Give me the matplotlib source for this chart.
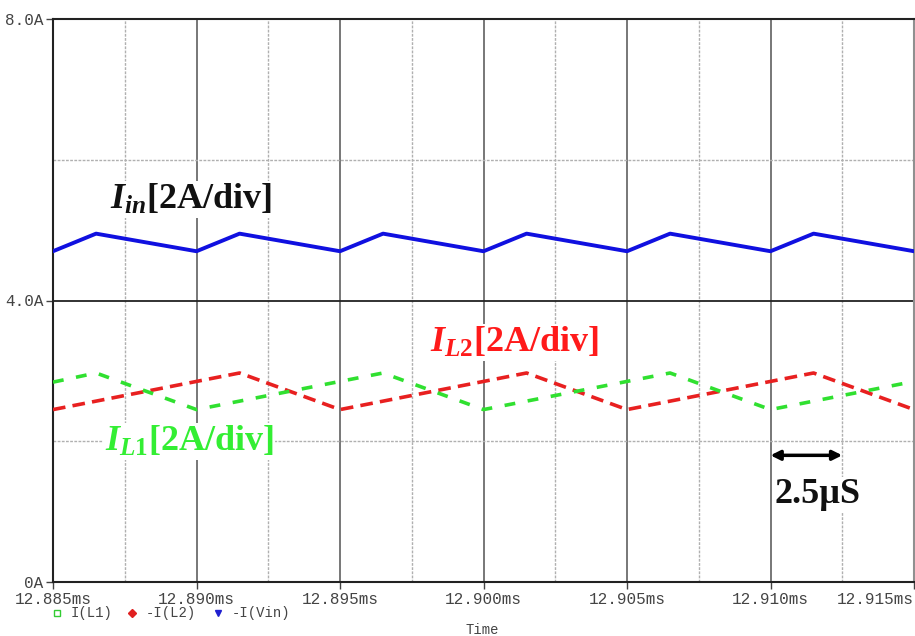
import matplotlib.pyplot as plt
from matplotlib.lines import Line2D
import numpy as np

# waveform corner points (time in ms, current in A)
t_in = [12.885, 12.8865, 12.890, 12.8915, 12.895, 12.8965, 12.900, 12.9015,
        12.905, 12.9065, 12.910, 12.9115, 12.915]
i_in = [4.70, 4.95, 4.70, 4.95, 4.70, 4.95, 4.70, 4.95, 4.70, 4.95, 4.70, 4.95, 4.70]

t_l2 = [12.885, 12.8915, 12.895, 12.9015, 12.905, 12.9115, 12.915]
i_l2 = [2.45, 2.97, 2.45, 2.97, 2.45, 2.97, 2.45]

t_l1 = [12.885, 12.8865, 12.890, 12.8965, 12.900, 12.9065, 12.910, 12.915]
i_l1 = [2.84, 2.97, 2.45, 2.97, 2.45, 2.97, 2.45, 2.85]

x_ticks = [12.885, 12.890, 12.895, 12.900, 12.905, 12.910, 12.915]
x_labels = ['12.885ms', '12.890ms', '12.895ms', '12.900ms', '12.905ms', '12.910ms', '12.915ms']
y_ticks = [0, 4, 8]
y_labels = ['0A', '4.0A', '8.0A']

plt.rcParams['mathtext.fontset'] = 'custom'
plt.rcParams['mathtext.rm'] = 'Liberation Serif:bold'
plt.rcParams['mathtext.it'] = 'Liberation Serif:bold:italic'
plt.rcParams['mathtext.bf'] = 'Liberation Serif:bold'

fig = plt.figure(figsize=(9.15, 6.36), dpi=100)
ax = fig.add_axes([53/915, 54/636, 861/915, 563/636])
ax.set_xlim(12.885, 12.915)
ax.set_ylim(0, 8)

# scope grid
for x in np.arange(12.8875, 12.915, 0.005):
    ax.axvline(x, color='#b0b0b0', lw=1.0, ls=(0, (2, 1)), zorder=1)
for x in x_ticks[1:-1]:
    ax.axvline(x, color='#606060', lw=1.2, zorder=1)
for y in [2, 6]:
    ax.axhline(y, color='#b0b0b0', lw=1.0, ls=(0, (2, 1)), zorder=1)
ax.axhline(4, color='#222222', lw=1.3, zorder=1)

ax.plot(t_in, i_in, color='#1010e0', lw=2.8, zorder=3)
ax.plot(t_l2, i_l2, color='#e82020', lw=2.6, ls=(0, (3.5, 2)), zorder=3)
ax.plot(t_l1, i_l1, color='#30e030', lw=2.6, ls=(0, (3, 3.5)), zorder=3)

ax.set_xticks(x_ticks)
ax.set_xticklabels(x_labels)
ax.set_yticks(y_ticks)
ax.set_yticklabels(y_labels)
ax.tick_params(labelsize=11.5, length=5, width=1, colors='#444444', pad=2)
for lab in ax.get_xticklabels() + ax.get_yticklabels():
    lab.set_family('Liberation Mono')
ax.get_xticklabels()[-1].set_ha('right')
for side in ['left', 'bottom', 'top']:
    ax.spines[side].set_color('#222222')
    ax.spines[side].set_linewidth(1.5)
ax.spines['right'].set_color('#909090')
ax.spines['right'].set_linewidth(1.5)

bb = dict(facecolor='white', edgecolor='none', pad=1)
txt = dict(fontsize=26, fontfamily='Liberation Serif', fontweight='bold', va='center', ha='left', zorder=5)
ax.text(12.8870, 5.43, r'$I_{in}$[2A/div]', color='#111111', bbox=bb, **txt)
ax.text(12.89815, 3.40, r'$I_{L2}$[2A/div]', color='#ff1a1a', bbox=bb, **txt)
ax.text(12.8868, 1.99, r'$I_{L1}$[2A/div]', color='#33ee33', bbox=bb, **txt)
ax.text(12.91015, 1.24, '2.5µS', color='#111111', bbox=bb, **txt)
ax.annotate('', xy=(12.910, 1.80), xytext=(12.9125, 1.80),
            arrowprops=dict(arrowstyle='<|-|>', color='black', lw=2.5,
                            mutation_scale=14, shrinkA=0, shrinkB=0), zorder=5)

# probe legend under the axis
leg_y = 1 - 613/636
legend_items = [(57, 'I(L1)', '#33cc33', 's', 'none'),
                (132, '-I(L2)', '#e02020', 'D', '#e02020'),
                (218, '-I(Vin)', '#2020d0', 'v', '#2020d0')]
for x0, name, col, mk, fc in legend_items:
    fig.add_artist(Line2D([x0/915], [leg_y], marker=mk, color=col, markerfacecolor=fc,
                          markersize=4, ls='none', transform=fig.transFigure))
    fig.text((x0 + 14)/915, leg_y, name, fontsize=10, family='Liberation Mono',
             color='#444444', va='center', ha='left')
fig.text(482/915, 1 - 630/636, 'Time', fontsize=10, family='Liberation Mono',
         color='#444444', va='center', ha='center')

fig.savefig('out.png', dpi=100)
